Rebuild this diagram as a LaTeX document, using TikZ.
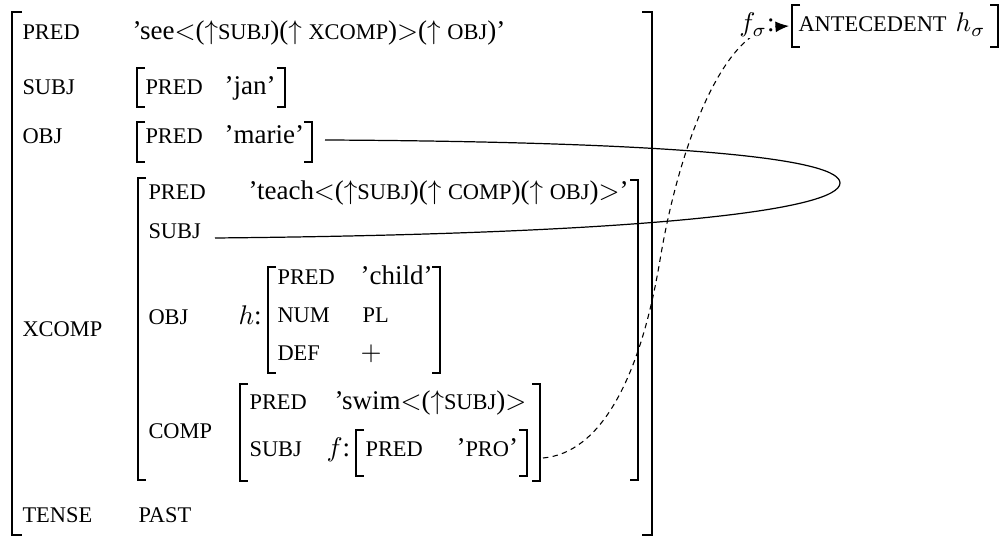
\documentclass[tikz,border=0pt]{standalone}
\usepackage{fontspec}
\setmainfont{Liberation Serif}
\usetikzlibrary{arrows.meta}
\newcommand\fsc[1]{{\fontsize{8.3pt}{10pt}\selectfont #1}}
\newcommand\upa{\ensuremath{\uparrow}}
\begin{document}
\begin{tikzpicture}[x=0.3704pt,y=-0.3704pt,
  txt/.style={inner sep=0pt,anchor=base west,font=\fontsize{10pt}{12pt}\selectfont},
  brk/.style={line width=0.7pt},
  link/.style={line width=0.45pt},
  dlink/.style={line width=0.4pt,dash pattern=on 2pt off 1.6pt}]
\useasboundingbox (0,0) rectangle (1005,538);

% outer brackets
\draw[brk] (22,12) -- (12,12) -- (12,535) -- (22,535);
\draw[brk] (642,12) -- (652,12) -- (652,535) -- (642,535);

% outer attributes
\node[txt] (pred1) at (22,40) {\fsc{PRED}};
\node[txt] (see) at (132,40) {'see$<$(\upa\fsc{SUBJ})(\upa~\fsc{XCOMP})$>$(\upa~\fsc{OBJ})'};

\node[txt] (subj1) at (22,95) {\fsc{SUBJ}};
\draw[brk] (145,68) -- (137,68) -- (137,107) -- (145,107);
\draw[brk] (277,68) -- (285,68) -- (285,107) -- (277,107);
\node[txt] (pred2) at (145,95) {\fsc{PRED}};
\node[txt] (jan) at (224,95) {'jan'};

\node[txt] (obj1) at (22,144) {\fsc{OBJ}};
\draw[brk] (145,122) -- (137,122) -- (137,162) -- (145,162);
\draw[brk] (304,122) -- (312,122) -- (312,162) -- (304,162);
\node[txt] (pred3) at (145,144) {\fsc{PRED}};
\node[txt] (marie) at (224,144) {'marie'};

\node[txt] (xcomp) at (22,337) {\fsc{XCOMP}};
\draw[brk] (146,178) -- (138,178) -- (138,480) -- (146,480);
\draw[brk] (630,180) -- (638,180) -- (638,480) -- (630,480);
\node[txt] (pred4) at (148,200) {\fsc{PRED}};
\node[txt] (teach) at (248,200) {'teach$<$(\upa\fsc{SUBJ})(\upa~\fsc{COMP})(\upa~\fsc{OBJ})$>$'};
\node[txt] (subj2) at (148,239) {\fsc{SUBJ}};

\node[txt] (obj2) at (148,325) {\fsc{OBJ}};
\node[txt] (hlab) at (238,325) {$h$:};
\draw[brk] (276,267) -- (268,267) -- (268,373) -- (276,373);
\draw[brk] (432,267) -- (440,267) -- (440,373) -- (432,373);
\node[txt] (pred5) at (277,285) {\fsc{PRED}};
\node[txt] (child) at (360,285) {'child'};
\node[txt] (num) at (277,323) {\fsc{NUM}};
\node[txt] (pl) at (362,323) {\fsc{PL}};
\node[txt] (def) at (277,361) {\fsc{DEF}};
\node[txt] (plus) at (360,361) {$+$};

\node[txt] (comp) at (148,439) {\fsc{COMP}};
\draw[brk] (248,384) -- (240,384) -- (240,481) -- (248,481);
\draw[brk] (532,384) -- (540,384) -- (540,481) -- (532,481);
\node[txt] (pred6) at (249,410) {\fsc{PRED}};
\node[txt] (swim) at (334,410) {'swim$<$(\upa\fsc{SUBJ})$>$};
\node[txt] (subj3) at (249,457) {\fsc{SUBJ}};
\node[txt] (flab) at (326,457) {$f$:};
\draw[brk] (364,430) -- (356,430) -- (356,476) -- (364,476);
\draw[brk] (519,430) -- (527,430) -- (527,476) -- (519,476);
\node[txt] (pred7) at (365,457) {\fsc{PRED}};
\node[txt] (pro) at (456,457) {'\fsc{PRO}'};

\node[txt] (tense) at (22,523) {\fsc{TENSE}};
\node[txt] (past) at (138,523) {\fsc{PAST}};

% sigma structure
\draw[brk] (800,5) -- (792,5) -- (792,47) -- (800,47);
\draw[brk] (990,5) -- (998,5) -- (998,47) -- (990,47);
\node[txt] (ante) at (798,32) {\fsc{ANTECEDENT}};
\node[txt] (hsig) at (955,32) {$h_\sigma$};

% connectors
\coordinate (marieR) at (325,140);
\coordinate (tsubjR) at (215,238);
\draw[link] (marieR) .. controls (700,142) and (840,160) .. (840,183)
  .. controls (840,210) and (650,234) .. (tsubjR);

\coordinate (proR) at (543,458);
\coordinate (sigL) at (789,26);
\draw[dlink,-{Latex[length=5pt,width=4pt]}] (proR) .. controls (600,453) and (640,380) .. (660,260)
  .. controls (680,140) and (725,30) .. (sigL);

\node[txt,fill=white,inner sep=0.3pt] (fsig) at (738,32) {$f_\sigma$:};
\end{tikzpicture}
\end{document}
